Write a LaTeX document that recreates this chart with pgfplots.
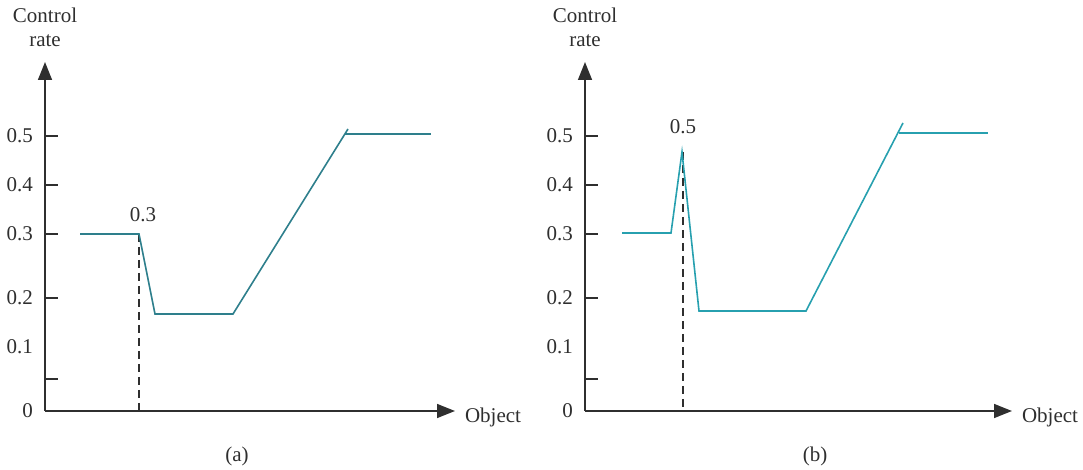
\documentclass[border=0pt]{standalone}
\usepackage{fontspec}
\setmainfont{Liberation Serif}
\usepackage{pgfplots}
\pgfplotsset{compat=1.18}
\usetikzlibrary{arrows.meta}
\definecolor{tealA}{HTML}{2E7F8C}
\definecolor{tealB}{HTML}{27A0AF}
\definecolor{axgray}{HTML}{2F2F2F}
\newcommand{\fs}{\fontsize{10.5}{12}\selectfont}
\pgfplotsset{panel/.style={
  x=0.5pt, y=0.5pt, ymin=0, ymax=349, xmin=0,
  anchor=south west,
  axis lines=left,
  axis line style={axgray, line width=0.75pt, -{Triangle[length=9pt,width=7pt]}},
  clip=false,
  tick align=inside,
  ytick={0,64}, yticklabels={0,0.1},
  extra y ticks={32,113,177,226,275},
  extra y tick labels={,0.2,0.3,0.4,0.5},
  major tick length=0pt,
  extra y tick style={major tick length=6.5pt, tick style={axgray, line width=0.7pt}},
  xtick=\empty,
  yticklabel style={font=\fs, text=axgray, xshift=-2.5pt},
  /pgf/number format/assume math mode=true,
  ylabel={Control\\rate},
  ylabel style={rotate=-90, at={(axis description cs:0,1)}, anchor=south, align=center, yshift=4pt, font=\fs, text=axgray},
  xlabel={Object},
  xlabel style={at={(axis description cs:1,0)}, anchor=base west, xshift=1.5pt, yshift=-6pt, font=\fs, text=axgray},
}}
\begin{document}
\begin{tikzpicture}
\useasboundingbox (0,0) rectangle (541.5pt,-235pt);
% panel (a)
\begin{axis}[panel, xmax=410, at={(22.5pt,-205.5pt)}]
\addplot[axgray, line width=0.7pt, dash pattern=on 4pt off 2.5pt] coordinates {(94,177) (94,0)};
\addplot[tealA, line width=0.8pt] coordinates {(35,177) (94,177) (110,97) (188,97) (303,282)};
\addplot[tealA, line width=0.8pt] coordinates {(300,277) (386,277)};
\node[font=\fs, text=axgray] at (axis cs:98,196) {0.3};
\node[font=\fs, text=axgray] at (axis cs:192,-45) {(a)};
\end{axis}
% panel (b)
\begin{axis}[panel, xmax=427, at={(292.5pt,-205.5pt)}]
\addplot[axgray, line width=0.7pt, dash pattern=on 4pt off 2.5pt] coordinates {(98,259) (98,0)};
\addplot[tealB, line width=0.8pt] coordinates {(37,178) (86,178) (97,259) (114,100) (221,100) (318,288)};
\addplot[tealB, line width=0.8pt] coordinates {(314,278) (403,278)};
\node[font=\fs, text=axgray] at (axis cs:98,284) {0.5};
\node[font=\fs, text=axgray] at (axis cs:230,-45) {(b)};
\end{axis}
\end{tikzpicture}
\end{document}
